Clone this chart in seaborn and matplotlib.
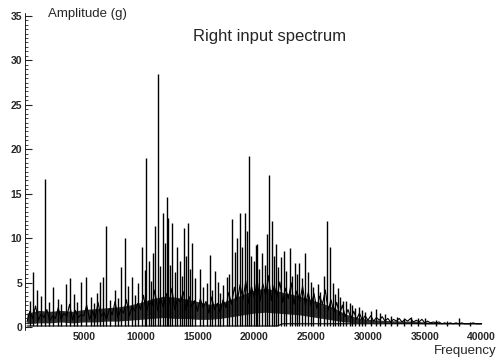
import numpy as np
import pandas as pd
import matplotlib
matplotlib.use("Agg")
import matplotlib.pyplot as plt
from matplotlib.ticker import MultipleLocator
import seaborn as sns

# ---- data ----
floor_step = 250  # Hz between noise-floor samples
floor_amp = [
    0.6, 1.8, 1.0, 2.4, 0.8, 1.5, 1.1, 2.0, 0.7, 1.3,
    1.0, 2.2, 0.9, 1.6, 1.2, 2.6, 0.8, 1.9, 1.1, 1.4,
    1.3, 2.5, 0.9, 1.8, 1.0, 2.8, 1.2, 1.7, 0.9, 2.1,
    1.4, 2.9, 1.1, 2.0, 1.6, 3.1, 1.3, 2.4, 1.8, 2.7,
    2.0, 3.6, 1.7, 3.0, 2.4, 4.2, 1.9, 3.3, 2.2, 3.8,
    2.6, 4.4, 2.0, 3.2, 2.8, 4.0, 1.9, 3.5, 2.3, 3.0,
    1.8, 3.2, 2.2, 2.9, 1.6, 3.4, 2.0, 2.7, 1.7, 3.1,
    2.2, 3.9, 2.6, 4.5, 2.9, 4.8, 3.1, 5.2, 2.7, 4.6,
    3.3, 5.4, 2.9, 4.9, 3.6, 5.8, 3.0, 4.7, 3.4, 5.1,
    2.8, 4.4, 3.2, 5.0, 2.6, 4.1, 2.9, 4.6, 2.5, 3.9,
    2.4, 3.8, 2.1, 3.5, 2.6, 4.2, 1.9, 3.1, 1.7, 2.8,
    1.4, 2.5, 1.2, 2.0, 1.0, 1.8, 0.9, 1.6, 0.8, 1.3,
    0.8, 1.3, 0.7, 1.1, 0.8, 1.2, 0.7, 1.0, 0.6, 0.9,
    0.7, 1.0, 0.6, 0.9, 0.7, 1.0, 0.6, 0.8, 0.6, 0.9,
    0.5, 0.7, 0.5, 0.6, 0.5, 0.6, 0.4, 0.5, 0.4, 0.5,
    0.4, 0.5, 0.4, 0.5, 0.4, 0.4, 0.4, 0.5, 0.4, 0.4,
    0.4,
]

# dense noise band (1000 Hz steps)
band_step = 1000
band_low = [
    0.4, 0.5, 0.5, 0.6, 0.5, 0.6, 0.6, 0.7, 0.7, 0.8,
    0.9, 1.0, 1.1, 1.0, 1.0, 0.9, 0.9, 1.0, 1.2, 1.4,
    1.6, 1.7, 1.6, 1.5, 1.4, 1.2, 1.0, 0.8, 0.6, 0.5,
    0.5, 0.5, 0.45, 0.45, 0.45, 0.4, 0.4, 0.4, 0.4, 0.4, 0.4,
]
band_high = [
    1.6, 1.9, 1.8, 1.9, 1.8, 2.0, 2.1, 2.2, 2.3, 2.5,
    2.8, 3.2, 3.5, 3.4, 3.2, 2.9, 2.6, 2.7, 3.2, 3.7,
    4.2, 4.4, 4.1, 3.8, 3.5, 3.1, 2.7, 2.2, 1.5, 1.1,
    0.9, 0.8, 0.75, 0.7, 0.7, 0.6, 0.55, 0.5, 0.5, 0.5, 0.5,
]

peak_freq = [
    300, 530, 880, 1200, 1580, 1900, 2290, 2700, 3000, 3430,
    3780, 4100, 4400, 4750, 5190, 5600, 5900, 6200, 6420, 6680,
    6950, 7300, 7700, 8000, 8300, 8620, 8900, 9230, 9500, 9800,
    10110, 10380, 10470, 10700, 10900, 11100, 11260, 11520, 11700, 11960,
    12100, 12310, 12400, 12600, 12750, 13000, 13190, 13460, 13600, 13810,
    14000, 14160, 14300, 14510, 14800, 15210, 15500, 15800, 16090, 16300,
    16500, 16800, 17000, 17240, 17590, 17800, 18030, 18300, 18500, 18730,
    18900, 19170, 19350, 19520, 19700, 19960, 20140, 20230, 20400, 20670,
    20900, 21100, 21280, 21550, 21700, 21900, 22100, 22340, 22600, 22800,
    23130, 23350, 23570, 23750, 23920, 24200, 24450, 24700, 24980, 25200,
    25590, 25800, 26100, 26380, 26650, 26900, 27100, 27350, 27550, 27790,
    28100, 28410, 28600, 28850, 29200, 29500, 29720, 30300, 30690, 31040,
    31500, 32000, 32600, 33200, 33800, 34400, 35000, 36000, 37000, 38000,
    39000,
]
peak_amp = [
    3.0, 6.2, 4.2, 3.5, 16.7, 2.8, 4.5, 3.2, 2.6, 4.9,
    5.5, 3.8, 2.9, 5.1, 5.7, 3.4, 2.7, 3.9, 5.1, 5.6,
    11.4, 3.1, 4.2, 3.3, 6.8, 10.0, 4.6, 5.6, 3.6, 5.0,
    9.0, 6.4, 19.0, 7.5, 5.2, 8.3, 11.4, 28.5, 6.9, 12.8,
    9.5, 14.6, 12.3, 7.0, 11.7, 6.2, 9.0, 7.5, 5.8, 11.2,
    8.0, 11.7, 6.5, 9.5, 5.5, 6.6, 4.5, 5.0, 8.1, 4.2,
    6.3, 5.1, 3.9, 4.7, 5.6, 6.0, 12.2, 8.5, 10.0, 12.8,
    9.0, 12.9, 10.8, 19.3, 8.0, 7.5, 9.2, 9.4, 6.5, 8.3,
    7.0, 10.5, 17.1, 12.0, 8.0, 9.4, 6.8, 7.9, 8.6, 6.3,
    8.9, 5.8, 7.2, 6.0, 7.2, 5.5, 8.4, 6.2, 5.1, 4.5,
    4.9, 4.0, 5.8, 12.0, 9.0, 5.0, 3.8, 4.4, 3.4, 3.0,
    3.0, 2.7, 2.5, 2.2, 2.3, 2.0, 1.7, 1.8, 2.1, 1.6,
    1.5, 1.3, 1.2, 1.1, 1.2, 1.1, 1.0, 0.8, 0.7, 1.1,
    0.6,
]

base_freq = [0, 22000, 22500, 40000]
base_amp = [0.15, 0.15, 0.4, 0.4]

x_ticks = [5000, 10000, 15000, 20000, 25000, 30000, 35000, 40000]
y_ticks = [0, 5, 10, 15, 20, 25, 30, 35]

# ---- build tables ----
floor = pd.DataFrame({"freq": np.arange(len(floor_amp)) * floor_step,
                      "amp": floor_amp})
band = pd.DataFrame({"freq": np.arange(len(band_low)) * band_step,
                     "low": band_low, "high": band_high})
peaks = pd.DataFrame({"freq": peak_freq, "amp": peak_amp})
base = pd.DataFrame({"freq": base_freq, "amp": base_amp})

sns.set_style("white")
plt.rcParams["font.family"] = ["Liberation Sans", "DejaVu Sans"]

fig = plt.figure(figsize=(5.0, 3.63), dpi=100)
ax = fig.add_axes([0.05, 0.0909, 0.92, 0.873])

ax.fill_between(band["freq"], band["low"], band["high"], color="black",
                alpha=0.8, lw=0)
sns.lineplot(data=floor, x="freq", y="amp", estimator=None, sort=True,
             color="black", lw=0.8, ax=ax)
ax.vlines(peaks["freq"], 0.2, peaks["amp"], color="black", lw=1.0)
sns.lineplot(data=base, x="freq", y="amp", estimator=None, sort=True,
             color="black", lw=0.8, ax=ax)

ax.set_xlim(-176, 40300)
ax.set_ylim(-0.3, 35.3)
ax.set_xlabel("")
ax.set_ylabel("")
for s in ["top", "right", "bottom"]:
    ax.spines[s].set_visible(False)
ax.spines["left"].set_linewidth(0.6)
ax.spines["left"].set_color("black")

ax.set_xticks(x_ticks)
ax.set_xticklabels([str(v) for v in x_ticks], fontsize=7.5, fontweight="bold")
ax.set_yticks(y_ticks)
ax.set_yticklabels([str(v) for v in y_ticks], fontsize=7.5, fontweight="bold")
ax.yaxis.set_minor_locator(MultipleLocator(0.5))
ax.tick_params(axis="x", length=0, pad=1.5)
ax.tick_params(axis="y", which="major", direction="in", length=5, width=0.8,
               pad=2, left=True)
ax.tick_params(axis="y", which="minor", direction="in", length=2, width=0.6,
               left=True)

fig.text(0.096, 1 - 14 / 363, "Amplitude (g)", fontsize=9.5, ha="left", va="center")
fig.text(0.54, 1 - 37 / 363, "Right input spectrum", fontsize=12, ha="center", va="center")
fig.text(0.993, 1 - 351 / 363, "Frequency", fontsize=9.5, ha="right", va="center")

fig.savefig("out.png", dpi=100, facecolor="white")
